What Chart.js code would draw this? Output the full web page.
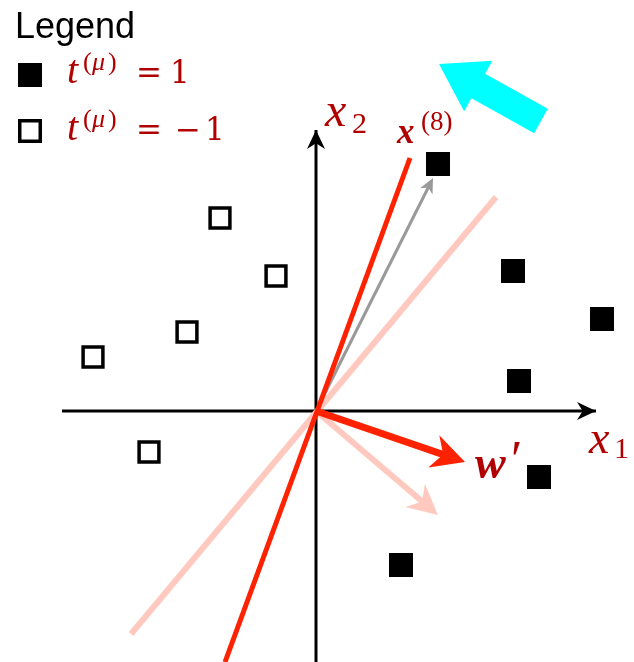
<!DOCTYPE html>
<html lang="en">
<head>
<meta charset="UTF-8">
<title>Perceptron update</title>
<script src="https://cdn.jsdelivr.net/npm/chart.js@4.4.0/dist/chart.umd.min.js"></script>
<style>
  html, body { margin: 0; padding: 0; background: #fff; }
  #wrap { position: relative; width: 634px; height: 662px; }
</style>
</head>
<body>
<div id="wrap"><canvas id="perceptron"></canvas></div>
<script>
// training patterns (x1, x2), origin where the axes cross
const posX = [122, 197, 286, 203, 223, 85];
const posY = [247, 140, 92, 30, -66, -154];
const negX = [-96, -40, -129, -223, -167];
const negY = [193, 135, 79, 54, -41];

// decision boundary before and after the update (segment ends)
const oldBoundaryX = [-185, 180];
const oldBoundaryY = [-223, 214];
const newBoundaryX = [-91, 94];
const newBoundaryY = [-251, 253];

// axis extents
const axisX1 = [-254, 280];
const axisX2 = [-251, 281];

// arrows as [fromX, fromY, toX, toY]
const oldWeight = [0, 0, 122, -104];
const newWeight = [0, 0, 149, -51];
const pattern8 = [0, 0, 117, 233];
const turnArrow = [225, 290, 123, 347];

const SERIF = '"Liberation Serif", "DejaVu Serif", serif';
const NUM = '"DejaVu Serif", "Liberation Serif", serif';
const SANS = '"Liberation Sans", Arial, sans-serif';
const RED_TEXT = '#b00000';
const RED = '#ff2200';
const PALE = '#ffc9bf';

function pts(xs, ys) {
    return xs.map((x, i) => ({ x: x, y: ys[i] }));
}

function toPx(chart, x, y) {
    return [chart.scales.x.getPixelForValue(x), chart.scales.y.getPixelForValue(y)];
}

// filled head with an optional notch at the back
function head(ctx, tip, u, len, half, notch, color) {
    const nx = -u[1], ny = u[0];
    const bx = tip[0] - u[0] * len, by = tip[1] - u[1] * len;
    const back = len * (1 - notch);
    ctx.beginPath();
    ctx.moveTo(tip[0], tip[1]);
    ctx.lineTo(bx + nx * half, by + ny * half);
    ctx.lineTo(tip[0] - u[0] * back, tip[1] - u[1] * back);
    ctx.lineTo(bx - nx * half, by - ny * half);
    ctx.closePath();
    ctx.fillStyle = color;
    ctx.fill();
}

function arrow(chart, a, width, color, len, half, notch) {
    const ctx = chart.ctx;
    const p0 = toPx(chart, a[0], a[1]);
    const p1 = toPx(chart, a[2], a[3]);
    const dx = p1[0] - p0[0], dy = p1[1] - p0[1];
    const d = Math.hypot(dx, dy);
    const u = [dx / d, dy / d];
    const stop = len * (1 - notch) - 1;
    ctx.save();
    ctx.strokeStyle = color;
    ctx.lineWidth = width;
    ctx.lineCap = 'butt';
    ctx.beginPath();
    ctx.moveTo(p0[0], p0[1]);
    ctx.lineTo(p1[0] - u[0] * stop, p1[1] - u[1] * stop);
    ctx.stroke();
    head(ctx, p1, u, len, half, notch, color);
    ctx.restore();
}

// pieces of a math label; "at" is the offset of a piece from the label start
function mathText(ctx, x, y, parts) {
    parts.forEach(p => {
        ctx.font = p.font;
        ctx.fillText(p.t, x + (p.at || 0), y + (p.dy || 0));
    });
}

function label(chart, x, y, parts) {
    const p = toPx(chart, x, y);
    mathText(chart.ctx, p[0], p[1], parts);
}

const sketch = {
    id: 'sketch',
    beforeDatasetsDraw(chart) {
        arrow(chart, oldWeight, 6, PALE, 30, 15, 0.3);
        arrow(chart, pattern8, 3, '#999999', 15, 7, 0.3);
    },
    afterDatasetsDraw(chart) {
        const ctx = chart.ctx;
        // axis heads
        head(ctx, toPx(chart, axisX1[1], 0), [1, 0], 19, 9, 0.3, '#000');
        head(ctx, toPx(chart, 0, axisX2[1]), [0, -1], 19, 9, 0.3, '#000');

        arrow(chart, newWeight, 7, RED, 33, 17, 0.3);
        arrow(chart, turnArrow, 28, '#00ffff', 45, 29, 0);

        ctx.save();
        ctx.fillStyle = RED_TEXT;
        ctx.textBaseline = 'alphabetic';
        label(chart, 9, 285, [
            { t: 'x', font: `italic 48px ${SERIF}` },
            { t: '2', font: `30px ${SERIF}`, at: 27, dy: 7 }
        ]);
        label(chart, 81, 268, [
            { t: 'x', font: `italic bold 35px ${SERIF}` },
            { t: '(8)', font: `27px ${SERIF}`, at: 24, dy: -13 }
        ]);
        label(chart, 273, -42, [
            { t: 'x', font: `italic 46px ${SERIF}` },
            { t: '1', font: `30px ${SERIF}`, at: 25, dy: 5 }
        ]);
        label(chart, 159, -67, [
            { t: 'w', font: `italic bold 46px ${SERIF}` },
            { t: '\u2032', font: `52px ${SERIF}`, at: 36, dy: -1 }
        ]);

        // legend
        ctx.fillStyle = '#000';
        ctx.font = `36px ${SANS}`;
        ctx.fillText('Legend', 15, 38);
        ctx.fillRect(18, 63, 24, 24);
        ctx.lineWidth = 3.5;
        ctx.strokeStyle = '#000';
        ctx.strokeRect(19.75, 120.75, 20.5, 20.5);

        ctx.fillStyle = RED_TEXT;
        const sup = `26px ${SERIF}`;
        const supIt = `italic 26px ${SERIF}`;
        const big = `31px ${NUM}`;
        const tPart = [
            { t: 't', font: `italic 40px ${SERIF}` },
            { t: '(', font: sup, at: 16, dy: -13 },
            { t: '\u03bc', font: supIt, at: 25, dy: -13 },
            { t: ')', font: sup, at: 41, dy: -13 }
        ];
        mathText(ctx, 67, 83, tPart.concat([
            { t: '=', font: big, at: 69 },
            { t: '1', font: big, at: 103 }
        ]));
        mathText(ctx, 67, 140, tPart.concat([
            { t: '=', font: big, at: 69 },
            { t: '\u2212', font: big, at: 108 },
            { t: '1', font: big, at: 138 }
        ]));
        ctx.restore();
    }
};

new Chart(document.getElementById('perceptron'), {
    type: 'scatter',
    data: {
        datasets: [
            {
                label: 't = 1',
                data: pts(posX, posY),
                pointStyle: 'rect',
                pointRadius: 17,
                backgroundColor: '#000',
                borderWidth: 0,
                clip: false,
                order: 0
            },
            {
                label: 't = -1',
                data: pts(negX, negY),
                pointStyle: 'rect',
                pointRadius: 14,
                backgroundColor: '#fff',
                borderColor: '#000',
                borderWidth: 3.5,
                clip: false,
                order: 1
            },
            {
                label: 'new boundary',
                data: pts(newBoundaryX, newBoundaryY),
                showLine: true,
                borderColor: RED,
                borderWidth: 5,
                pointRadius: 0,
                clip: false,
                order: 2
            },
            {
                label: 'old boundary',
                data: pts(oldBoundaryX, oldBoundaryY),
                showLine: true,
                borderColor: PALE,
                borderWidth: 6,
                pointRadius: 0,
                clip: false,
                order: 3
            },
            {
                label: 'x1 axis',
                data: pts(axisX1, [0, 0]),
                showLine: true,
                borderColor: '#000',
                borderWidth: 3,
                pointRadius: 0,
                clip: false,
                order: 4
            },
            {
                label: 'x2 axis',
                data: pts([0, 0], axisX2),
                showLine: true,
                borderColor: '#000',
                borderWidth: 3,
                pointRadius: 0,
                clip: false,
                order: 4
            }
        ]
    },
    options: {
        responsive: true,
        maintainAspectRatio: false,
        animation: false,
        events: [],
        layout: { padding: 0, autoPadding: false },
        plugins: {
            legend: { display: false },
            tooltip: { enabled: false }
        },
        scales: {
            x: { type: 'linear', min: -316, max: 318, display: false },
            y: { type: 'linear', min: -251, max: 411, display: false }
        }
    },
    plugins: [sketch]
});
</script>
</body>
</html>
